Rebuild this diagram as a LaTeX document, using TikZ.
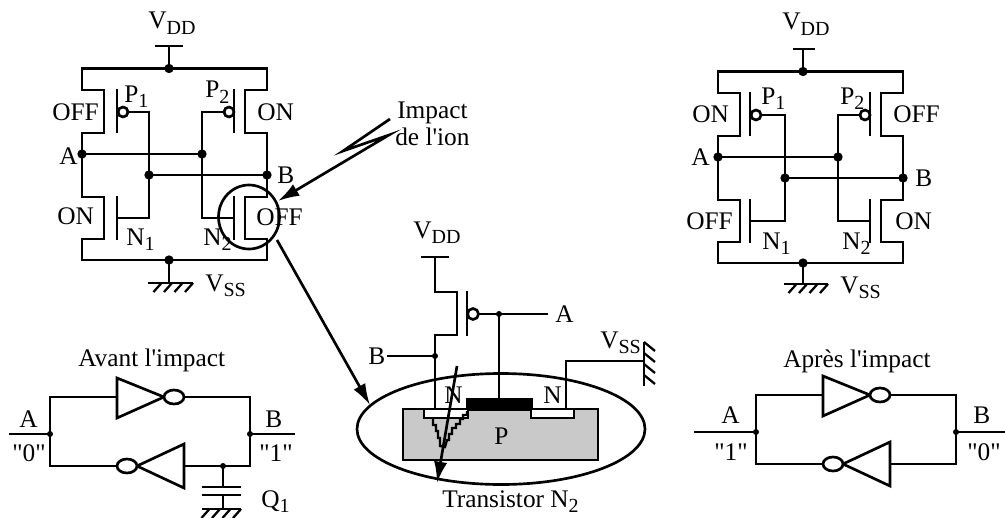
\documentclass[tikz,border=0pt]{standalone}
\usepackage{fontspec}
\usepackage{tikz}
\usetikzlibrary{arrows.meta}
\newfontfamily\labelfont{Liberation Serif}
\newcommand{\lowsub}[1]{\raisebox{-3.8pt}{\fontsize{15}{15}\selectfont #1}}
\tikzset{
  wire/.style={line width=2pt},
  dot/.style={circle,fill=black,inner sep=0pt,minimum size=7pt},
  smalldot/.style={circle,fill=black,inner sep=0pt,minimum size=4.5pt},
  lbl/.style={anchor=base west,inner sep=0pt,font=\labelfont\fontsize{19}{21}\selectfont},
  ionarrow/.style={wire,-{Latex[length=16pt,width=10pt]}}
}
% cross-coupled cmos cell: prefix, gate bar x of left side, middle x
\newcommand{\cmoscell}[3]{
  \draw[wire] (82,90)--(82,68.5)--(267,68.5)--(267,90)--(245,90)--(245,133)--(267,133)--(267,197)--(245,197)--(245,239)--(267,239)--(267,260)--(82,260)--(82,239)--(104,239)--(104,197)--(82,197)--(82,133)--(104,133)--(104,90)--cycle;
  \node[dot] (#1top) at (#3,68.5) {};
  \node[dot] (#1bot) at (#3,260) {};
  \node[dot] (#1A) at (82,154) {};
  \node[dot] (#1G) at (202,154) {};
  \node[dot] (#1H) at (149,175) {};
  \node[dot] (#1B) at (267,175) {};
  \draw[wire] (#2,89)--(#2,133);
  \draw[wire] (#2,196)--(#2,240);
  \draw[wire] (234,89)--(234,133);
  \draw[wire] (234,196)--(234,240);
  \draw[wire] ({#2+6},112)--(149,112)--(149,218)--(#2,218);
  \draw[wire] (229,112)--(202,112)--(202,218)--(234,218);
  \draw[wire] (#1A.center)--(#1G.center);
  \draw[wire] (#1H.center)--(#1B.center);
  \draw[wire,fill=white] ({#2+6},112) circle(5);
  \draw[wire,fill=white] (229,112) circle(5);
}
% ground bar with its hatches: left x, right x, y
\newcommand{\groundbar}[3]{
  \draw[wire] (#1,#3)--(#2,#3);
  \foreach \hx in {0,1,2,3}
    \draw[line width=1.7pt] ({#2-\hx*10.5},#3)--({#2-\hx*10.5-8},{#3+9});
}
% the two inverters head to tail
\newcommand{\inverterloop}[1]{
  \draw[wire] (117,397)--(50,397)--(50,466)--(117,466);
  \draw[wire] (184,397)--(250,397)--(250,466)--(184,466);
  \draw[wire] (117,378)--(117,418)--(164,397)--cycle;
  \draw[wire] (184,444)--(184,488)--(137,466)--cycle;
  \draw[wire,fill=white] (174,397) ellipse[x radius=10,y radius=7];
  \draw[wire,fill=white] (127,466) ellipse[x radius=10,y radius=7];
  \node[smalldot] (#1L) at (50,434) {};
  \node[smalldot] (#1R) at (250,434) {};
}
\begin{document}
\begin{tikzpicture}[x=.75pt,y=-.75pt]
\useasboundingbox (0,0) rectangle (1005,517);
%left cell
\cmoscell{u}{117}{169}
\draw[wire] (155,46)--(183,46);
\draw[wire] (169,46)--(utop.center);
\draw[wire] (ubot.center)--(169,283);
\groundbar{148}{193}{283}
\draw[wire] (249,217) ellipse[x radius=30.5,y radius=32];
\node[lbl] (uvdd) at (148,29) {V\lowsub{DD}};
\node[lbl] (uvss) at (205,291) {V\lowsub{SS}};
\node[lbl] (uoff) at (52,120) {OFF};
\node[lbl] (uon) at (257,120) {ON};
\node[lbl] (uona) at (57,224) {ON};
\node[lbl] (uoffb) at (256,225) {OFF};
\node[lbl] (up) at (124,102) {P\lowsub{1}};
\node[lbl] (upp) at (205,98) {P\lowsub{2}};
\node[lbl] (un) at (126,245) {N\lowsub{1}};
\node[lbl] (unn) at (203,245) {N\lowsub{2}};
\node[lbl] (ua) at (59,164) {A};
\node[lbl] (ub) at (277,183) {B};
%ion
\node[lbl] (imp) at (397,118) {Impact};
\node[lbl] (ion) at (395,145) {de l'ion};
\coordinate (zig) at (390,119);
\coordinate (hit) at (278,201);
\draw[ionarrow] (zig)--(343,151)--(389,135)--(hit);
\coordinate (circ) at (277,240);
\coordinate (ell) at (370,405);
\draw[ionarrow] (circ)--(ell);
%right cell
\begin{scope}[shift={(636,3)}]
\cmoscell{v}{114}{167}
\draw[wire] (157,46)--(179,46);
\draw[wire] (167,46)--(vtop.center);
\draw[wire] (vbot.center)--(167,281);
\groundbar{148}{192}{281}
\end{scope}
\node[lbl] (vvdd) at (782,30) {V\lowsub{DD}};
\node[lbl] (vvss) at (840,293) {V\lowsub{SS}};
\node[lbl] (von) at (692,122) {ON};
\node[lbl] (voff) at (893,122) {OFF};
\node[lbl] (voffb) at (686,229) {OFF};
\node[lbl] (vona) at (895,229) {ON};
\node[lbl] (vp) at (761,104) {P\lowsub{1}};
\node[lbl] (vpp) at (840,104) {P\lowsub{2}};
\node[lbl] (vn) at (762,249) {N\lowsub{1}};
\node[lbl] (vnn) at (842,249) {N\lowsub{2}};
\node[lbl] (va) at (691,165) {A};
\node[lbl] (vb) at (915,186) {B};
%transistor cut
\draw[wire] (501,429) ellipse[x radius=144,y radius=55.5];
\draw[wire,fill=black!21] (403,409) rectangle (598,460);
\fill (466,398) rectangle (533,411);
\draw[wire,fill=white] (424,409) rectangle (468,418);
\draw[wire,fill=white] (531,409) rectangle (574,418);
\draw[line width=1.7pt] (433,418)--(433,425)--(436,425)--(436,431)--(438,431)--(438,438)--(440,438)--(440,446)--(445,447)--(447,440)--(449,440)--(449,434)--(452,434)--(452,428)--(456,428)--(456,424)--(460,424)--(460,419)--(463,419)--(463,415)--(467,415)--(467,411);
\draw[wire] (421,257)--(449,257);
\node[smalldot] (mb) at (435,356) {};
\node[smalldot] (ma) at (499,314) {};
\draw[wire] (435,257)--(435,292)--(457,292)--(457,335)--(435,335)--(435,409);
\draw[wire] (467,291)--(467,336);
\draw[wire] (478,314)--(548,314);
\draw[wire,fill=white] (473,314) circle(5.5);
\draw[wire] (ma.center)--(499,398);
\draw[wire] (387,356)--(mb.center);
\draw[wire] (566,409)--(566,361)--(644,361);
\draw[wire] (644,342)--(644,386);
\foreach \hy in {0,1,2,3}
  \draw[line width=1.7pt] (644,{342+\hy*11})--(655,{351+\hy*11});
\node[lbl] (mvdd) at (413,238) {V\lowsub{DD}};
\node[lbl] (mvss) at (600,348) {V\lowsub{SS}};
\node[lbl] (ma2) at (555,322) {A};
\node[lbl] (mb2) at (368,364) {B};
\node[lbl] (mnl) at (444,403) {N};
\node[lbl] (mnr) at (543,403) {N};
\node[lbl] (mp) at (494,444) {P};
\node[lbl] (mt) at (442,507) {Transistor N\lowsub{2}};
\draw[ionarrow] (457,366)--(437,483);
%before
\inverterloop{b}
\draw[wire] (9,434)--(bL.center);
\draw[wire] (bR.center)--(295,434);
\node[smalldot] (bq) at (223,466) {};
\draw[wire] (bq.center)--(223,487);
\draw[wire] (202,487)--(241,487);
\draw[wire] (202,495)--(241,495);
\draw[wire] (223,495)--(223,509);
\groundbar{202}{241}{509}
\node[lbl] (bt) at (78,366) {Avant l'impact};
\node[lbl] (ba) at (19,427) {A};
\node[lbl] (bb) at (265,427) {B};
\node[lbl] (b0) at (12,461) {"0"};
\node[lbl] (b1) at (259,461) {"1"};
\node[lbl] (bc) at (261,507) {Q\lowsub{1}};
%after
\begin{scope}[shift={(706,-2)}]
\inverterloop{r}
\end{scope}
\draw[wire] (694,432)--(rL.center);
\draw[wire] (rR.center)--(1005,432);
\node[lbl] (rt) at (783,367) {Après l'impact};
\node[lbl] (ra) at (721,423) {A};
\node[lbl] (rb) at (973,423) {B};
\node[lbl] (r1) at (714,460) {"1"};
\node[lbl] (r0) at (967,460) {"0"};
\end{tikzpicture}
\end{document}
